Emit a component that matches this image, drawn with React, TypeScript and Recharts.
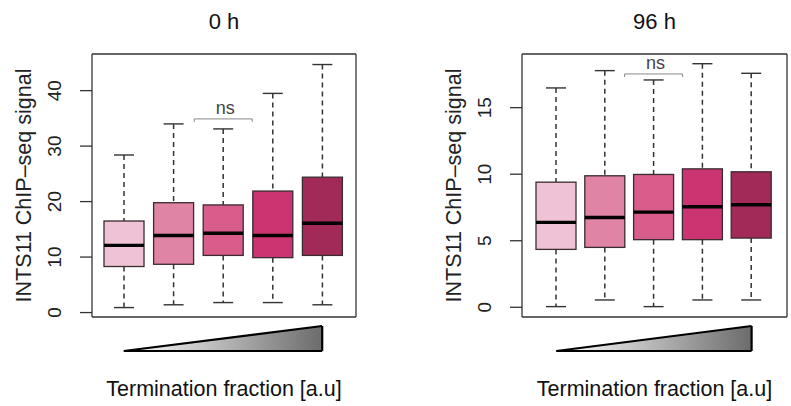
import { ComposedChart, Bar, XAxis, YAxis, Area, ReferenceLine, CartesianGrid } from "recharts";

const FONT = '"Liberation Sans", Arial, Helvetica, sans-serif';

const groups = ["G1", "G2", "G3", "G4", "G5"];
const boxColors = ["#efc3d5", "#e084a6", "#d85d8b", "#cc3471", "#a12a58"];

// 0 h panel
const low0h = [0.9, 1.4, 1.8, 1.8, 1.4];
const q1_0h = [8.3, 8.7, 10.3, 9.9, 10.3];
const med0h = [12.1, 13.9, 14.3, 13.9, 16.1];
const q3_0h = [16.5, 19.8, 19.4, 21.9, 24.4];
const high0h = [28.4, 34.0, 33.1, 39.5, 44.7];
const ticks0h = [0, 10, 20, 30, 40];
const nsLevel0h = 34.9;

// 96 h panel
const low96h = [0.05, 0.55, 0.05, 0.55, 0.55];
const q1_96h = [4.35, 4.5, 5.08, 5.08, 5.2];
const med96h = [6.38, 6.75, 7.15, 7.55, 7.7];
const q3_96h = [9.4, 9.88, 9.98, 10.4, 10.18];
const high96h = [16.48, 17.78, 17.08, 18.3, 17.58];
const ticks96h = [0, 5, 10, 15];
const nsLevel96h = 17.53;

const nsGroup = "G3";
const ramp = [
  { pos: 1, level: 0 },
  { pos: 5, level: 1 },
];

function rows(lo: number[], q1: number[], med: number[], q3: number[], hi: number[]) {
  return groups.map((name, i) => ({
    name,
    lo: lo[i],
    q1: q1[i],
    med: med[i],
    q3: q3[i],
    hi: hi[i],
    fill: boxColors[i],
  }));
}

const data0h = rows(low0h, q1_0h, med0h, q3_0h, high0h);
const data96h = rows(low96h, q1_96h, med96h, q3_96h, high96h);

function BoxShape(props: any) {
  const { x, y, width, height, payload, nsLevel } = props;
  const h = Math.abs(height);
  const top = height < 0 ? y + height : y;
  const bottom = top + h;
  const ppu = h / (payload.q3 - payload.q1);
  const yOf = (v: number) => bottom - (v - payload.q1) * ppu;
  const cx = x + width / 2;
  const cap = width / 4;
  const yHi = yOf(payload.hi);
  const yLo = yOf(payload.lo);
  const yMed = yOf(payload.med);
  return (
    <g>
      <line x1={cx} x2={cx} y1={yHi} y2={top} stroke="#333" strokeWidth={1.5} strokeDasharray="5 4" />
      <line x1={cx} x2={cx} y1={bottom} y2={yLo} stroke="#333" strokeWidth={1.5} strokeDasharray="5 4" />
      <line x1={cx - cap} x2={cx + cap} y1={yHi} y2={yHi} stroke="#333" strokeWidth={1.4} />
      <line x1={cx - cap} x2={cx + cap} y1={yLo} y2={yLo} stroke="#333" strokeWidth={1.4} />
      <rect x={x} y={top} width={width} height={h} fill={payload.fill} stroke="#3a2b30" strokeWidth={1.3} />
      <line x1={x} x2={x + width} y1={yMed} y2={yMed} stroke="#000" strokeWidth={3.4} />
      {payload.name === nsGroup && (
        <g>
          <polyline
            points={`${cx - 29},${yOf(nsLevel) + 3} ${cx - 29},${yOf(nsLevel)} ${cx + 29},${yOf(nsLevel)} ${cx + 29},${yOf(nsLevel) + 3}`}
            fill="none"
            stroke="#888"
            strokeWidth={1}
          />
          <text x={cx + 2} y={yOf(nsLevel) - 5} textAnchor="middle" fontSize={18} fontFamily={FONT} fill="#444">
            ns
          </text>
        </g>
      )}
    </g>
  );
}

function RotTick(props: any) {
  const { x, y, payload } = props;
  return (
    <text x={x} y={y} transform={`rotate(-90 ${x} ${y})`} textAnchor="middle" fontSize={19} fontFamily={FONT} fill="#222">
      {payload.value}
    </text>
  );
}

function yTitle(vb: any) {
  const tx = vb.x + vb.width - 61;
  const ty = vb.y + vb.height / 2;
  return (
    <text x={tx} y={ty} transform={`rotate(-90 ${tx} ${ty})`} textAnchor="middle" fontSize={21.5} fontFamily={FONT} fill="#222">
      INTS11 ChIP–seq signal
    </text>
  );
}

// plot frame: grid lines placed on the edges of the plotting area
const frameH = (p: any) => [p.offset.top, p.offset.top + p.offset.height];
const frameV = (p: any) => [p.offset.left, p.offset.left + p.offset.width];

interface PanelProps {
  title: string;
  data: any[];
  ticks: number[];
  domain: [number, number];
  nsLevel: number;
  left: number;
  width: number;
  axisW: number;
  rightM: number;
  padL: number;
  padR: number;
  gradId: string;
}

function Panel({ title, data, ticks, domain, nsLevel, left, width, axisW, rightM, padL, padR, gradId }: PanelProps) {
  const axisStyle = { stroke: "#333", strokeWidth: 1.3 };
  const plotCx = axisW + (width - axisW - rightM) / 2;
  return (
    <>
      <div style={{ position: "absolute", left, top: 0 }}>
        <ComposedChart width={width} height={406} data={data} margin={{ top: 54, right: rightM, bottom: 89, left: 0 }}>
          <CartesianGrid
            stroke="#333"
            strokeWidth={1.3}
            horizontalCoordinatesGenerator={frameH}
            verticalCoordinatesGenerator={frameV}
          />
          <XAxis dataKey="name" height={0} tick={false} tickLine={false} axisLine={false} padding={{ left: padL, right: padR }} />
          <YAxis
            type="number"
            domain={domain}
            ticks={ticks}
            width={axisW}
            tickSize={12}
            tickMargin={19}
            tick={<RotTick />}
            tickLine={axisStyle}
            axisLine={false}
            label={{ content: (p: any) => yTitle(p.viewBox) }}
          />
          <Bar
            dataKey={(d: any) => [d.q1, d.q3]}
            barSize={40}
            isAnimationActive={false}
            shape={(p: any) => <BoxShape {...p} nsLevel={nsLevel} />}
          />
          <text x={plotCx} y={28.5} textAnchor="middle" fontSize={22} fontFamily={FONT} fill="#111">
            {title}
          </text>
          <text x={plotCx} y={396} textAnchor="middle" fontSize={21.5} fontFamily={FONT} fill="#111">
            Termination fraction [a.u]
          </text>
        </ComposedChart>
      </div>
      <div style={{ position: "absolute", left, top: 318 }}>
        <ComposedChart width={width} height={40} data={ramp} margin={{ top: 8, right: rightM, bottom: 7, left: axisW }}>
          <defs>
            <linearGradient id={gradId} x1="0" y1="0" x2="1" y2="0">
              <stop offset="0%" stopColor="#ffffff" />
              <stop offset="100%" stopColor="#6c6c6c" />
            </linearGradient>
          </defs>
          <XAxis type="number" dataKey="pos" domain={[0.5, 5.5]} hide padding={{ left: padL, right: padR }} />
          <YAxis type="number" domain={[0, 1]} hide />
          <Area type="linear" dataKey="level" stroke="#000" strokeWidth={2.2} fill={`url(#${gradId})`} fillOpacity={1} isAnimationActive={false} />
          <ReferenceLine segment={[{ x: 1, y: 0 }, { x: 5, y: 0 }]} stroke="#000" strokeWidth={2.2} />
          <ReferenceLine segment={[{ x: 5, y: 0 }, { x: 5, y: 1 }]} stroke="#000" strokeWidth={2.2} />
        </ComposedChart>
      </div>
    </>
  );
}

export default function App() {
  return (
    <div style={{ position: "absolute", left: 0, top: 0, width: 791, height: 406, background: "#fff", fontFamily: FONT }}>
      <Panel title="0 h" data={data0h} ticks={ticks0h} domain={[-0.8, 46.6]} nsLevel={nsLevel0h} left={0} width={400} axisW={92} rightM={44} padL={7} padR={9} gradId="ramp0" />
      <Panel title="96 h" data={data96h} ticks={ticks96h} domain={[-0.73, 19.03]} nsLevel={nsLevel96h} left={400} width={391} axisW={122} rightM={4} padL={10} padR={11} gradId="ramp96" />
    </div>
  );
}
